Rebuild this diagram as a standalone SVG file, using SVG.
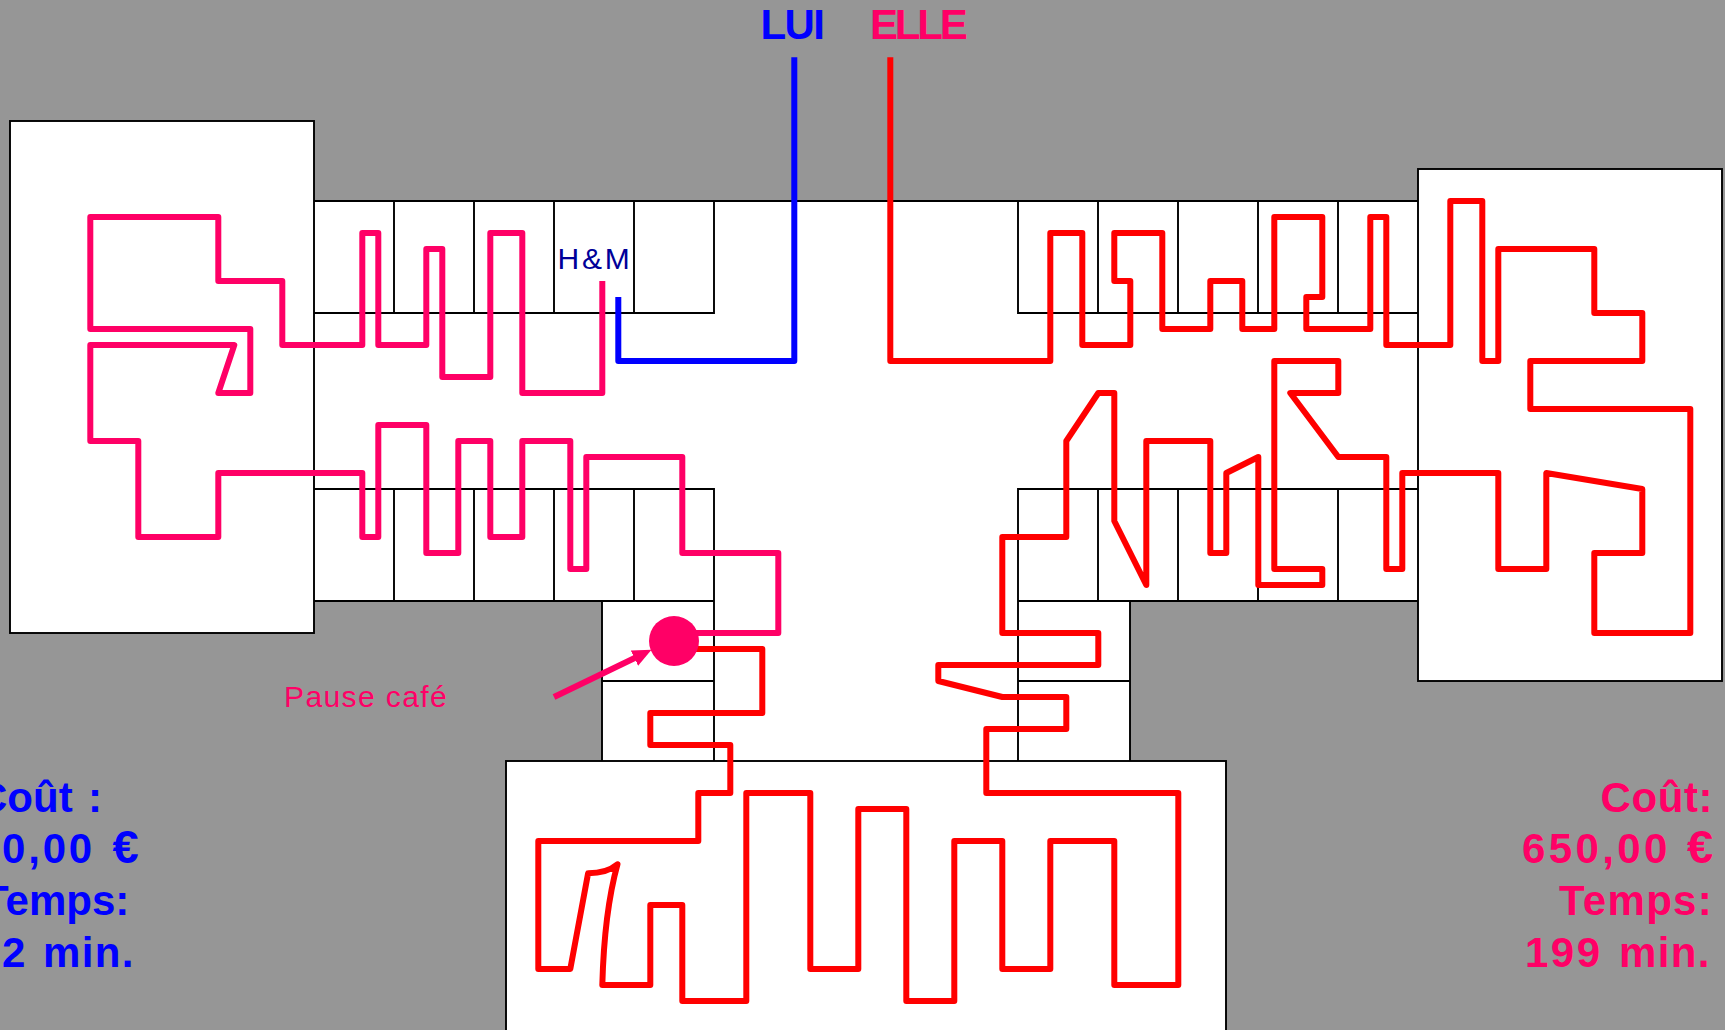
<svg xmlns="http://www.w3.org/2000/svg" width="1725" height="1030" viewBox="0 0 1725 1030">
<style>
.room{fill:#fff;stroke:#000;stroke-width:1.9}
.div{fill:none;stroke:#000;stroke-width:1.9}
.route{fill:none;stroke-width:6;stroke-linejoin:round;stroke-linecap:butt}
.pink{stroke:#ff0066}.red{stroke:#ff0000}.blue{stroke:#0000ff}
text{font-family:"Liberation Sans",Arial,sans-serif}
.head{font-size:42px;font-weight:bold}
.big{font-size:42px;font-weight:bold}
.euro{font-size:47px}
.tp{fill:#ff0066}.tb{fill:#0000ff}
</style>
<defs>
<marker id="ah" markerUnits="userSpaceOnUse" viewBox="0 0 19 17" refX="9" refY="8.5" markerWidth="19" markerHeight="17" orient="auto"><polygon points="0,0 19,8.5 0,17" fill="#ff0066"/></marker>
</defs>
<rect id="background" width="1725" height="1030" fill="#969696"/>
<g id="corridor"><polygon points="314,201 1418,201 1418,601 1130,601 1130,761 602,761 602,601 314,601" fill="#fff"/></g>
<g id="shops-top-left"><path class="div" d="M314 201H714V313H314M394 201V313M474 201V313M554 201V313M634 201V313"/></g>
<g id="shops-top-right"><path class="div" d="M714 201H1418M1418 313H1018V201M1098 201V313M1178 201V313M1258 201V313M1338 201V313"/></g>
<g id="shops-bottom-left"><path class="div" d="M314 489H714V761M314 601H714M394 489V601M474 489V601M554 489V601M634 489V601"/></g>
<g id="shops-bottom-right"><path class="div" d="M1418 489H1018V761M1418 601H1018M1098 489V601M1178 489V601M1258 489V601M1338 489V601"/></g>
<g id="shops-south-left"><path class="div" d="M602 601V761M602 681H714"/></g>
<g id="shops-south-right"><path class="div" d="M1130 601V761M1018 681H1130"/></g>
<g id="anchor-west"><rect class="room" x="10" y="121" width="304" height="512"/></g>
<g id="anchor-east"><rect class="room" x="1418" y="169" width="304" height="512"/></g>
<g id="anchor-south"><rect class="room" x="506" y="761" width="720" height="300"/></g>
<g id="connectors" transform="translate(0.5 0.2)">
<path id="route-lui" class="route blue" d="M793.8 57V360.8H617.8V296.8"/>
<path id="route-elle-1" class="route pink" d="M601.8 280.8V392.8H521.8V232.8H489.8V376.8H441.8V248.8H425.8V344.8H377.8V232.8H361.8V344.8H281.8V280.8H217.8V216.8H89.8V328.8H249.8V392.8H217.8L233.8 344.8H89.8V440.8H137.8V536.8H217.8V472.8H361.8V536.8H377.8V424.8H425.8V552.8H457.8V440.8H489.8V536.8H521.8V440.8H569.8V568.8H585.8V456.8H681.8V552.8H777.8V632.8H674"/>
<path id="route-elle-2" class="route red" d="M889.8 57V360.8H1049.8V232.8H1081.8V344.8H1129.8V280.8H1113.8V232.8H1161.8V328.8H1209.8V280.8H1241.8V328.8H1273.8V216.8H1321.8V296.8H1305.8V328.8H1369.8V216.8H1385.8V344.8H1449.8V200.8H1481.8V360.8H1497.8V248.8H1593.8V312.8H1641.8V360.8H1529.8V408.8H1689.8V632.8H1593.8V552.8H1641.8V488.8L1545.8 472.8V568.8H1497.8V472.8H1401.8V568.8H1385.8V456.8H1337.8L1289.8 392.8H1337.8V360.8H1273.8V568.8H1321.8V584.8H1257.8V456.8L1225.8 472.8V552.8H1209.8V440.8H1145.8V584.8L1113.8 520.8V392.8H1097.8L1065.8 440.8V536.8H1001.8V632.8H1097.8V664.8H937.8V680.8L1001.8 696.8H1065.8V728.8H985.8V792.8H1177.8V984.8H1113.8V840.8H1049.8V968.8H1001.8V840.8H953.8V1000.8H905.8V808.8H857.8V968.8H809.8V792.8H745.8V1000.8H681.8V904.8H649.8V984.8H601.8C603 940 607 900 617 864C610 870 600 873 587.6 873L569.8 968.8H537.8V840.8H697.8V792.8H729.8V744.8H649.8V712.8H761.8V648.8H674"/>
<path id="arrow-pause" class="route pink" d="M553.5 696.8L642 654" marker-end="url(#ah)"/>
</g>
<g id="pause-stop"><circle cx="674" cy="641" r="25" fill="#ff0066"/></g>
<g id="labels">
<text class="head tb" x="760.5" y="39" letter-spacing="-1.6">LUI</text>
<text class="head tp" x="870" y="39" letter-spacing="-3.2">ELLE</text>
<text x="557.5" y="269" font-size="30" letter-spacing="2.8" fill="#000099">H&amp;M</text>
<text x="284" y="707" font-size="30" letter-spacing="1.4" fill="#ff0066">Pause café</text>
<text class="big tb" x="-23" y="812">Coût<tspan x="88">:</tspan></text>
<text class="big tb" y="863"><tspan x="2" letter-spacing="2.8">0,00</tspan><tspan class="euro" x="112.5">€</tspan></text>
<text class="big tb" x="-17" y="915">Temps:</text>
<text class="big tb" y="967"><tspan x="2">2</tspan><tspan x="43" letter-spacing="1.4">min.</tspan></text>
<text class="big tp" x="1600.5" y="812" letter-spacing="0.6">Coût:</text>
<text class="big tp" y="863"><tspan x="1522" letter-spacing="3.4">650,00</tspan><tspan class="euro" x="1687">€</tspan></text>
<text class="big tp" x="1559" y="915" letter-spacing="1.3">Temps:</text>
<text class="big tp" y="967"><tspan x="1525" letter-spacing="2.5">199</tspan><tspan x="1619" letter-spacing="1.4">min.</tspan></text>
</g>
</svg>
